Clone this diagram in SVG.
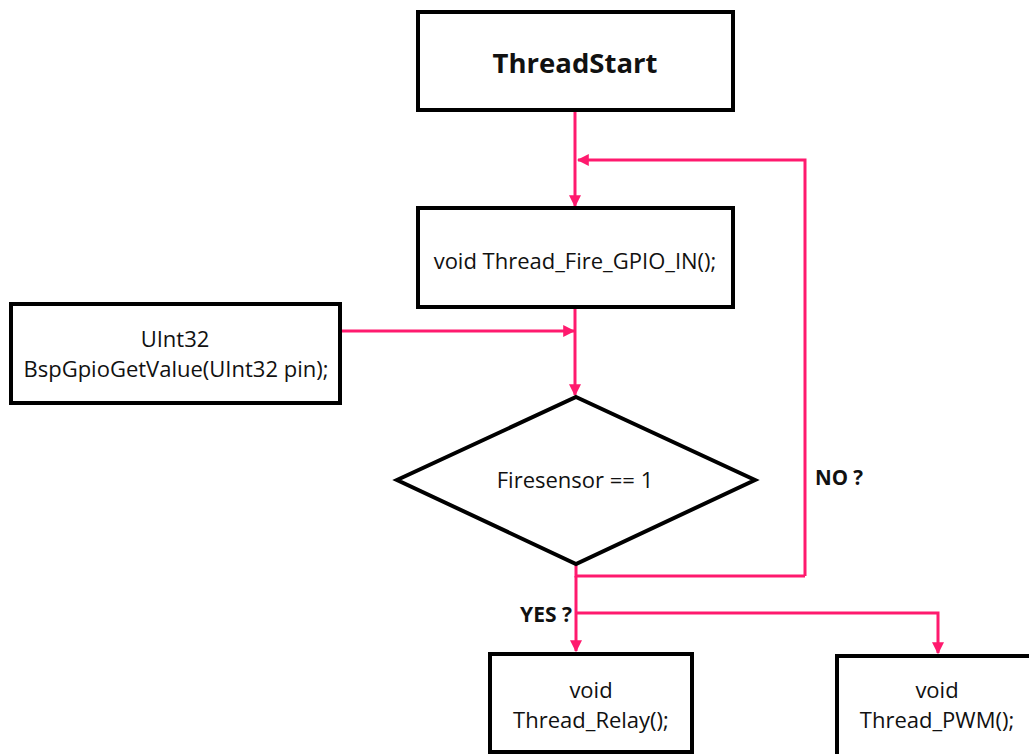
<svg xmlns="http://www.w3.org/2000/svg" width="1029" height="754" viewBox="0 0 1029 754">
  <style>
    .box { fill: #ffffff; stroke: #000000; stroke-width: 4; }
    .lbl { font-family: "Open Sans", "Liberation Sans", sans-serif; font-size: 22px; fill: #111111; text-anchor: middle; }
    .bold { font-family: "Open Sans", "Liberation Sans", sans-serif; font-weight: bold; fill: #111111; }
    .wire { fill: none; stroke: #ff1a6e; stroke-width: 3; }
  </style>
  <defs>
    <marker id="arrow" viewBox="0 0 10 10" refX="9" refY="5" markerWidth="4" markerHeight="4" orient="auto" markerUnits="strokeWidth">
      <path d="M0,0 L10,5 L0,10 z" fill="#ff1a6e"/>
    </marker>
  </defs>
  <rect width="1029" height="754" fill="#ffffff"/>

  <g id="connectors">
    <path class="wire" d="M575,110 V206" marker-end="url(#arrow)"/>
    <path class="wire" d="M805,576 V160 H578" marker-end="url(#arrow)"/>
    <path class="wire" d="M575,308 V395" marker-end="url(#arrow)"/>
    <path class="wire" d="M340,331 H574" marker-end="url(#arrow)"/>
    <path class="wire" d="M576,564 V576 H805"/>
    <path class="wire" d="M576,576 V651" marker-end="url(#arrow)"/>
    <path class="wire" d="M576,613 H938 V653" marker-end="url(#arrow)"/>
  </g>

  <g id="thread-start">
    <rect class="box" x="418" y="12" width="315" height="98"/>
    <text class="bold" x="575" y="73" font-size="27.5" text-anchor="middle">ThreadStart</text>
  </g>

  <g id="fire-gpio-in">
    <rect class="box" x="418" y="208" width="315" height="99"/>
    <text class="lbl" x="575" y="269">void Thread_Fire_GPIO_IN();</text>
  </g>

  <g id="bsp-gpio-get-value">
    <rect class="box" x="11" y="304" width="329" height="99"/>
    <text class="lbl" x="175" y="347">UInt32</text>
    <text class="lbl" x="176" y="377">BspGpioGetValue(UInt32 pin);</text>
  </g>

  <g id="fire-sensor-check">
    <polygon class="box" points="576,397 755,480 576,564 397,480"/>
    <text class="lbl" x="575" y="488">Firesensor == 1</text>
  </g>

  <g id="thread-relay">
    <rect class="box" x="490" y="654" width="202" height="98"/>
    <text class="lbl" x="591" y="698">void</text>
    <text class="lbl" x="591" y="728">Thread_Relay();</text>
  </g>

  <g id="thread-pwm">
    <rect class="box" x="837" y="656" width="200" height="100"/>
    <text class="lbl" x="937" y="698">void</text>
    <text class="lbl" x="937" y="728">Thread_PWM();</text>
  </g>

  <g id="branch-labels">
    <text class="bold" x="815" y="485" font-size="20.5">NO ?</text>
    <text class="bold" x="572" y="622" font-size="21" text-anchor="end">YES ?</text>
  </g>
</svg>
